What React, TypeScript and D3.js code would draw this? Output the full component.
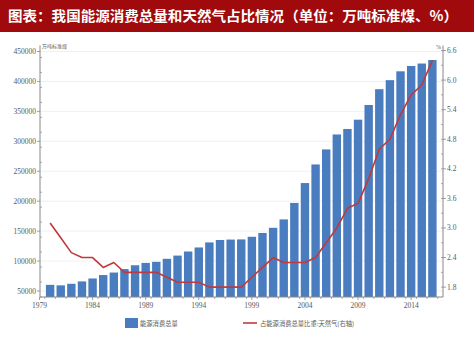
import React from "react";
import * as d3 from "d3";

const years = [1980,1981,1982,1983,1984,1985,1986,1987,1988,1989,1990,1991,1992,1993,1994,1995,1996,1997,1998,1999,2000,2001,2002,2003,2004,2005,2006,2007,2008,2009,2010,2011,2012,2013,2014,2015,2016];
const totalConsumption = [60275,59447,62067,66040,70904,76682,80850,86632,92997,96934,98703,103783,109170,115993,122737,131176,135192,135909,136184,140569,146964,155547,169577,197083,230281,261369,286467,311442,320611,336126,360648,387043,402138,416913,425806,429905,435819];
const gasShare = [3.1,2.8,2.5,2.4,2.4,2.2,2.3,2.1,2.1,2.1,2.1,2.0,1.9,1.9,1.9,1.8,1.8,1.8,1.8,2.0,2.2,2.4,2.3,2.3,2.3,2.4,2.7,3.0,3.4,3.5,4.0,4.6,4.8,5.3,5.7,5.9,6.4];
const leftTicks = [50000,100000,150000,200000,250000,300000,350000,400000,450000];
const rightTicks = [1.8,2.4,3.0,3.6,4.2,4.8,5.4,6.0,6.6];
const xLabels = [1979,1984,1989,1994,1999,2004,2009,2014];
const title = "图表：我国能源消费总量和天然气占比情况（单位：万吨标准煤、%）";
const barLegend = "能源消费总量";
const lineLegend = "占能源消费总量比重:天然气(右轴)";
const leftUnit = "万吨标准煤";
const rightUnit = "%";

export default function App() {
  const W = 474, H = 339;
  const x0 = 40, x1 = 443, yTop = 51.5, yBot = 297;
  const x = d3.scaleLinear().domain([1979, 2017]).range([39.5, 443]);
  const yL = d3.scaleLinear().domain([40000, 450000]).range([yBot, yTop]);
  const yR = d3.scaleLinear().domain([1.6, 6.6]).range([yBot, yTop - 1]);
  const bw = 8.4;
  const line = d3.line<number>().x((_, i) => x(years[i])).y(d => yR(d));
  const tickFont = "'Liberation Serif', serif";
  const grey = "#595959";
  const leftMinor = d3.range(40000, 450001, 25000);
  const rightMinor = d3.range(1.8, 6.61, 0.3);
  const xMinor = d3.range(1979.5, 2017, 1);
  return (
    <svg width={W} height={H} style={{ position: "absolute", left: 0, top: 0, background: "#fff" }}>
      <rect x={0} y={0} width={W} height={32} fill="#A00A0C" />
      <text x={8} y={21} textAnchor="start" fill="#fff" fontSize={14} fontWeight="bold"
        textLength={450} lengthAdjust="spacingAndGlyphs"
        fontFamily="'Noto Sans CJK SC', sans-serif">{title}</text>

      {leftTicks.map(t => (
        <line key={"g" + t} x1={x0} x2={x1} y1={yL(t)} y2={yL(t)} stroke="#ececec" strokeWidth={0.8} />
      ))}

      {years.map((yr, i) => (
        <rect key={yr} x={x(yr) - bw / 2} y={yL(totalConsumption[i])} width={bw}
          height={yBot - yL(totalConsumption[i])} fill="#4A7CC0" />
      ))}

      <path d={line(gasShare) || ""} fill="none" stroke="#C0393B" strokeWidth={1.6} strokeLinejoin="round" />

      {/* left axis */}
      <line x1={x0} x2={x0} y1={yTop - 6} y2={yBot} stroke="#888" strokeWidth={1} />
      {leftMinor.map(t => (
        <line key={"lm" + t} x1={x0} x2={x0 + 2} y1={yL(t)} y2={yL(t)} stroke="#888" strokeWidth={0.7} />
      ))}
      {leftTicks.map(t => (
        <g key={"l" + t}>
          <line x1={x0 - 3} x2={x0} y1={yL(t)} y2={yL(t)} stroke="#888" strokeWidth={0.8} />
          <text x={x0 - 4} y={yL(t) + 2.5} textAnchor="end" fontSize={7.5} fill={grey} fontFamily={tickFont}>{t}</text>
        </g>
      ))}
      <text x={x0 + 2} y={yTop - 4} fontSize={5} fill={grey} fontFamily="'Noto Sans CJK SC', sans-serif">{leftUnit}</text>

      {/* right axis */}
      <line x1={x1} x2={x1} y1={yTop - 6} y2={yBot} stroke="#888" strokeWidth={1} />
      {rightMinor.map(t => (
        <line key={"rm" + t} x1={x1 - 2} x2={x1} y1={yR(t)} y2={yR(t)} stroke="#888" strokeWidth={0.7} />
      ))}
      {rightTicks.map(t => (
        <g key={"r" + t}>
          <line x1={x1} x2={x1 + 3} y1={yR(t)} y2={yR(t)} stroke="#888" strokeWidth={0.8} />
          <text x={x1 + 4} y={yR(t) + 2.5} fontSize={7.5} fill={grey} fontFamily={tickFont}>{t.toFixed(1)}</text>
        </g>
      ))}
      <text x={x1 - 2} y={yTop - 3} textAnchor="end" fontSize={6} fill={grey} fontFamily={tickFont}>{rightUnit}</text>

      {/* x axis */}
      <line x1={x0} x2={x1} y1={yBot} y2={yBot} stroke="#888" strokeWidth={1} />
      {xMinor.map(t => (
        <line key={"xm" + t} x1={x(t)} x2={x(t)} y1={yBot} y2={yBot + 2} stroke="#888" strokeWidth={0.7} />
      ))}
      {xLabels.map(t => (
        <g key={"x" + t}>
          <line x1={x(t)} x2={x(t)} y1={yBot} y2={yBot + 3} stroke="#888" strokeWidth={0.8} />
          <text x={x(t)} y={yBot + 11} textAnchor="middle" fontSize={7.5} fill={grey} fontFamily={tickFont}>{t}</text>
        </g>
      ))}

      {/* legend */}
      <rect x={125} y={318} width={13} height={10} fill="#4A7CC0" />
      <text x={140} y={325.5} fontSize={6.3} fill={grey} fontFamily="'Noto Sans CJK SC', sans-serif">{barLegend}</text>
      <line x1={243} x2={257} y1={323} y2={323} stroke="#C0393B" strokeWidth={1.6} />
      <text x={260} y={325.5} fontSize={6.3} fill={grey} fontFamily="'Noto Sans CJK SC', sans-serif">{lineLegend}</text>
    </svg>
  );
}
